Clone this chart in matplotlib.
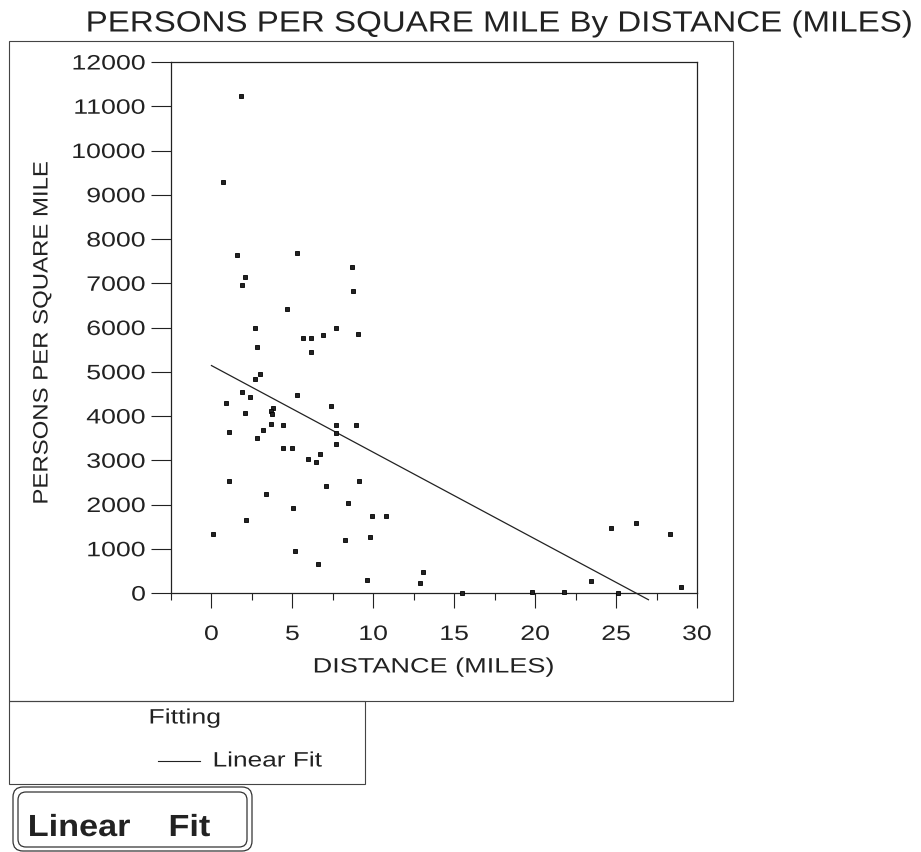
import numpy as np
import matplotlib
matplotlib.use('Agg')
import matplotlib.pyplot as plt
from matplotlib.patches import Rectangle, FancyBboxPatch
from matplotlib.patheffects import AbstractPathEffect
from matplotlib.transforms import Affine2D

plt.rcParams['font.family'] = ['Liberation Sans', 'DejaVu Sans']

title = 'PERSONS PER SQUARE MILE By DISTANCE (MILES)'
x_label = 'DISTANCE (MILES)'
y_label = 'PERSONS PER SQUARE MILE'
x_ticks = [0, 5, 10, 15, 20, 25, 30]
y_ticks = list(range(0, 12001, 1000))

# miles from centre vs persons per square mile
distance = [1.85, 0.72, 1.58, 5.28, 8.71, 2.09, 1.89, 8.73, 4.64, 2.69,
            7.72, 9.08, 5.65, 6.12, 6.90, 2.83, 6.12, 2.98, 2.69, 1.89,
            2.38, 5.30, 0.90, 7.39, 3.80, 3.70, 3.76, 2.05, 3.66, 4.45,
            7.70, 8.91, 7.70, 1.09, 3.16, 2.83, 7.72, 4.45, 4.97, 6.73,
            5.96, 6.43, 1.11, 9.12, 7.07, 3.37, 8.44, 5.01, 9.94, 10.78,
            2.11, 0.12, 8.28, 9.80, 5.18, 6.61, 13.06, 9.63, 12.90, 15.45,
            19.82, 21.77, 23.43, 24.71, 26.21, 25.10, 28.34, 29.02]
density = [11240, 9280, 7630, 7680, 7370, 7150, 6970, 6830, 6410, 6000,
           5980, 5850, 5760, 5760, 5820, 5570, 5440, 4960, 4840, 4540,
           4420, 4470, 4300, 4230, 4170, 4110, 4040, 4060, 3810, 3800,
           3800, 3800, 3620, 3640, 3680, 3510, 3370, 3270, 3270, 3140,
           3020, 2960, 2540, 2530, 2410, 2230, 2040, 1930, 1750, 1750,
           1640, 1340, 1200, 1260, 960, 660, 480, 300, 230, 0,
           20, 15, 260, 1460, 1590, 0, 1340, 130]

fit_intercept = 5140
fit_slope = -196
fit_range = [0, 27]

INK = '#222222'


class Stretch(AbstractPathEffect):
    # widen glyphs along the baseline, keeping one edge (or the middle) fixed
    def __init__(self, sx, anchor='center'):
        super().__init__()
        self.sx = sx
        self.anchor = anchor

    def draw_path(self, renderer, gc, tpath, affine, rgbFace=None):
        ext = tpath.get_extents()
        cx = {'left': ext.x0, 'center': 0.5 * (ext.x0 + ext.x1),
              'right': ext.x1}[self.anchor]
        tr = Affine2D().translate(-cx, 0).scale(self.sx, 1).translate(cx, 0)
        renderer.draw_path(gc, tpath, tr + affine, rgbFace)


W, H = 921, 853
fig = plt.figure(figsize=(W / 100, H / 100), dpi=100)

# pixel-space layer for frames and free text
ov = fig.add_axes([0, 0, 1, 1], zorder=-1)
ov.set_xlim(0, W)
ov.set_ylim(H, 0)
ov.axis('off')

ax = fig.add_axes([171 / W, 1 - 594 / H, (697 - 171) / W, (594 - 63) / H])
ax.set_facecolor('none')
ax.plot(distance, density, ls='none', marker='s', ms=3.3, mfc=INK,
        mec='black', mew=0.6, clip_on=False, zorder=3)
xs = np.array(fit_range, dtype=float)
ax.plot(xs, fit_intercept + fit_slope * xs, color=INK, lw=0.9, clip_on=False)

ax.set_xlim(-2.5, 30)
ax.set_ylim(0, 12000)
ax.set_xticks(x_ticks)
ax.set_xticks(np.arange(-2.5, 30, 5), minor=True)
ax.set_yticks(y_ticks)
ax.tick_params(axis='y', direction='out', length=14.5, width=0.8, pad=3.6,
               labelsize=15, colors=INK)
ax.tick_params(axis='x', which='major', direction='out', length=11, width=0.8,
               pad=12, labelsize=15, colors=INK)
ax.tick_params(axis='x', which='minor', direction='out', length=5, width=0.8,
               colors=INK)
for sp in ax.spines.values():
    sp.set_linewidth(0.9)
    sp.set_color(INK)
for lbl in ax.get_yticklabels():
    lbl.set_path_effects([Stretch(1.28, 'right')])
for lbl in ax.get_xticklabels():
    lbl.set_path_effects([Stretch(1.28, 'center')])

# frames
ov.add_patch(Rectangle((9, 42), 724, 660, fill=False, lw=0.8, ec='#444444'))
ov.add_patch(Rectangle((9, 702), 356, 83, fill=False, lw=0.8, ec='#444444'))
ov.add_patch(FancyBboxPatch((13, 788), 239, 64,
                            boxstyle='round,pad=0,rounding_size=10',
                            fill=False, lw=0.9, ec='#333333'))
ov.add_patch(FancyBboxPatch((18, 793), 229, 55,
                            boxstyle='round,pad=0,rounding_size=8',
                            fill=False, lw=0.9, ec='#333333'))

ov.text(498.5, 32.5, title, ha='center', va='baseline', fontsize=21,
        color=INK, path_effects=[Stretch(1.135)])
ov.text(434, 668, x_label, ha='center', va='center', fontsize=15,
        color=INK, path_effects=[Stretch(1.3)])
ov.text(42, 333, y_label, rotation=90, ha='center', va='center',
        fontsize=15, color=INK, path_effects=[Stretch(1.15)])

# legend
ov.text(185, 719, 'Fitting', ha='center', va='center', fontsize=15,
        color=INK, path_effects=[Stretch(1.28)])
ov.plot([158, 200], [762, 762], color=INK, lw=0.8)
ov.text(213, 762, 'Linear Fit', ha='left', va='center', fontsize=15,
        color=INK, path_effects=[Stretch(1.26, 'left')])

ov.text(28, 837, 'Linear    Fit', ha='left', va='baseline', fontsize=22,
        fontweight='bold', color=INK, path_effects=[Stretch(1.12, 'left')])

fig.savefig('out.png', dpi=100)
